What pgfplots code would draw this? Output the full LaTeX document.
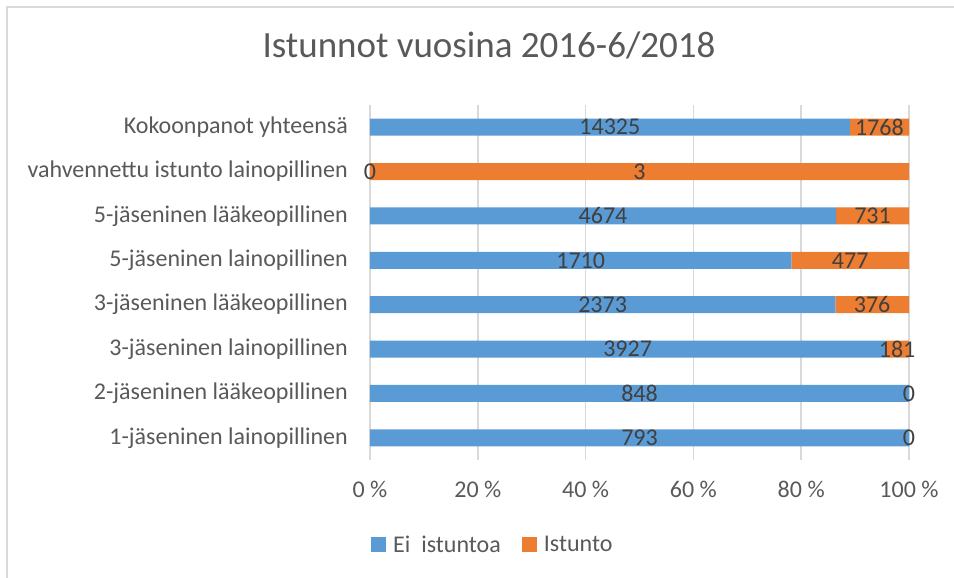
\documentclass[border=0pt]{standalone}
\usepackage{pgfplots}
\pgfplotsset{compat=1.18}
\usepackage{pgfplotstable}
\usepackage{fontspec}
\setmainfont{Carlito}
\definecolor{cblue}{HTML}{5B9BD5}
\definecolor{corange}{HTML}{ED7D31}
\definecolor{ctext}{HTML}{595959}
\definecolor{clab}{HTML}{404040}
\definecolor{cgrid}{HTML}{D9D9D9}
\newcommand\fs{\fontsize{24}{28}\selectfont}
\pgfplotstableread{
y a b
0 793 0
1 848 0
2 3927 181
3 2373 376
4 1710 477
5 4674 731
6 0 3
7 14325 1768
}\data
\pgfplotsset{myaxis/.style={at={(370pt,118pt)}, anchor=south west, scale only axis,
  width=539pt, height=355pt, xmin=0, xmax=100, ymin=-0.5, ymax=7.5}}
\begin{document}
\begin{tikzpicture}
\useasboundingbox (0,0) rectangle (954pt,578pt);
\draw[cgrid, line width=1.5pt] (7pt,0pt) -- (7pt,571pt) -- (954pt,571pt);
\begin{axis}[myaxis,
  xbar stacked, bar width=17pt,
  axis line style={draw=none},
  tick style={draw=none},
  xmajorgrids, major grid style={cgrid, line width=1.5pt},
  xtick={0,20,40,60,80,100},
  xticklabels={0 \%, 20 \%, 40 \%, 60 \%, 80 \%, 100 \%},
  xticklabel style={font=\fs, text=ctext, anchor=center, yshift=-29pt},
  ytick={0,...,7},
  yticklabels={1-jäseninen lainopillinen, 2-jäseninen lääkeopillinen, 3-jäseninen lainopillinen, 3-jäseninen lääkeopillinen, 5-jäseninen lainopillinen, 5-jäseninen lääkeopillinen, vahvennettu istunto lainopillinen, Kokoonpanot yhteensä},
  yticklabel style={font=\fs, text=ctext, anchor=east, inner sep=0pt, xshift=-22pt},
  title={Istunnot vuosina 2016-6/2018},
  title style={at={(0.2208,1.152)}, anchor=center, font=\fontsize{37}{44}\selectfont, text=ctext},
  legend columns=2,
  legend image code/.code={\fill[#1] (0pt,-7.5pt) rectangle (15pt,7.5pt);},
  legend style={at={(axis description cs:0,0)}, anchor=west, yshift=-85pt, xshift=1pt,
    draw=none, fill=none, inner sep=0pt, font=\fs, text=ctext,
    /tikz/every odd column/.append style={column sep=4pt},
    /tikz/every even column/.append style={column sep=18pt},
    nodes={inner sep=3pt}},
]
\addplot[fill=cblue, draw=none] table[x expr=\thisrow{a}/(\thisrow{a}+\thisrow{b})*100, y=y] {\data};
\addlegendentry{Ei\ \ istuntoa}
\addplot[fill=corange, draw=none] table[x expr=\thisrow{b}/(\thisrow{a}+\thisrow{b})*100, y=y] {\data};
\addlegendentry{Istunto}
\end{axis}
\begin{axis}[myaxis, hide axis, clip=false,
  every node near coord/.append style={anchor=center, font=\fs, text=clab, inner sep=0pt}]
\addplot[draw=none, nodes near coords, point meta=explicit symbolic]
  table[x expr=50*\thisrow{a}/(\thisrow{a}+\thisrow{b}), y=y, meta=a] {\data};
\addplot[draw=none, nodes near coords, point meta=explicit symbolic]
  table[x expr=100*(\thisrow{a}+0.5*\thisrow{b})/(\thisrow{a}+\thisrow{b}), y=y, meta=b] {\data};
\end{axis}
\end{tikzpicture}
\end{document}
